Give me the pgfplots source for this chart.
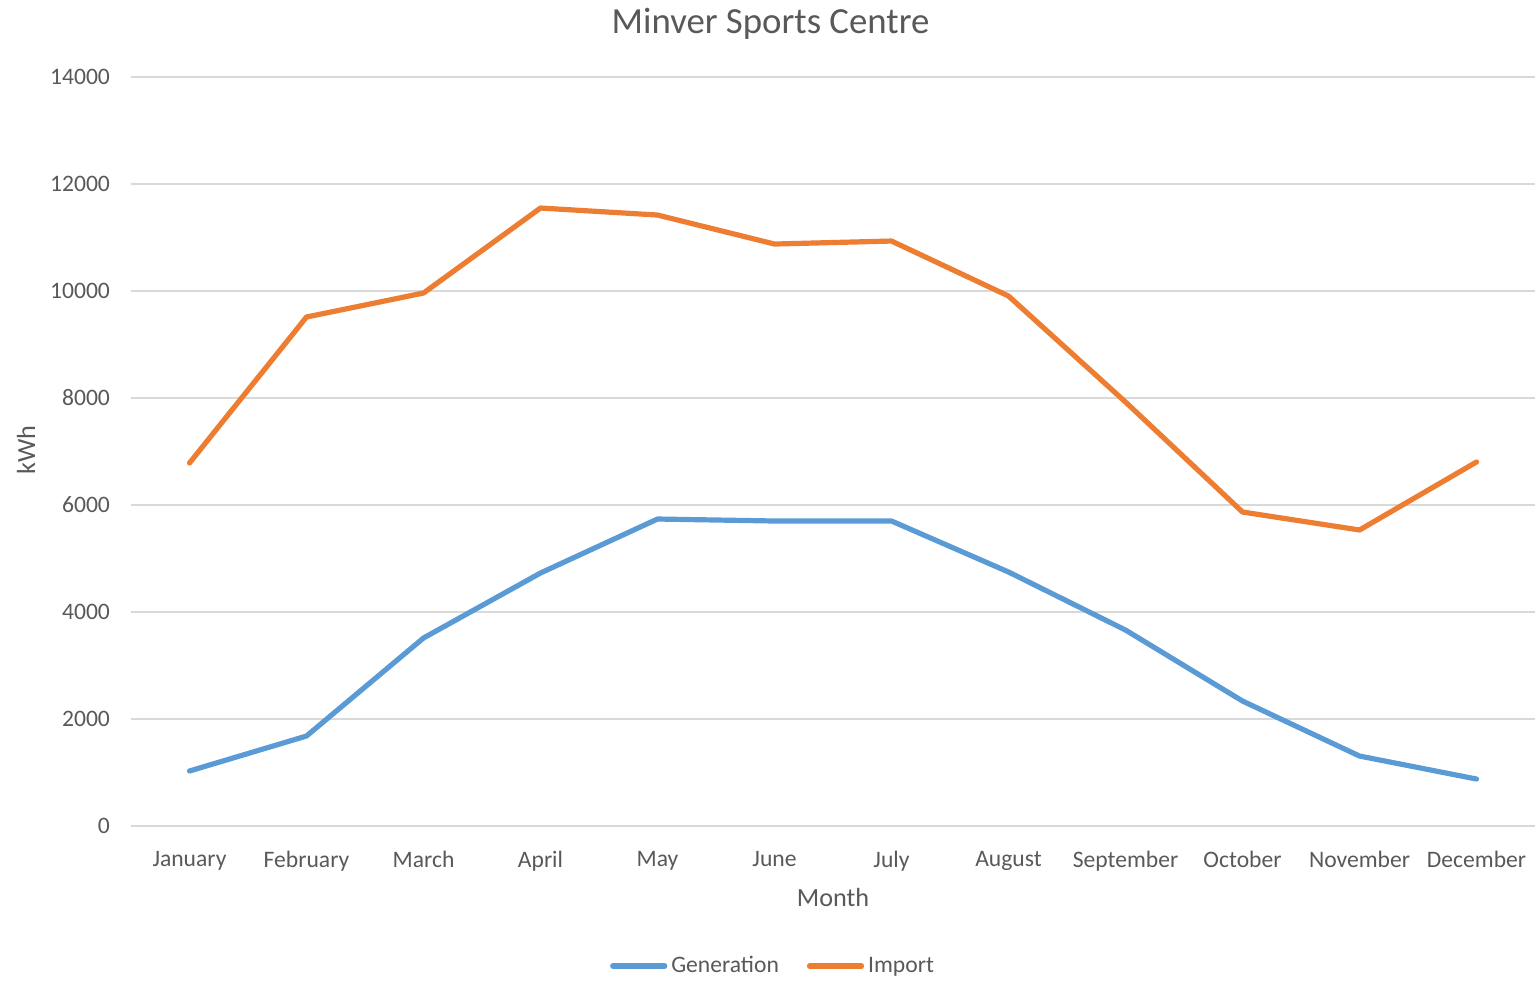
\documentclass[border=0pt]{standalone}
\usepackage{pgfplots}
\pgfplotsset{compat=1.18}
\usepackage{fontspec}
\setmainfont{Carlito}
\definecolor{genblue}{HTML}{5B9BD5}
\definecolor{imporange}{HTML}{ED7D31}
\definecolor{txtgray}{HTML}{595959}
\definecolor{gridgray}{HTML}{D9D9D9}
\begin{document}
\begin{tikzpicture}
\path[use as bounding box] (-65.5pt,-77.5pt) rectangle (704.5pt,413pt);
\begin{axis}[
  at={(0,0)}, anchor=south west,
  scale only axis,
  width=702pt, height=374.5pt,
  xmin=-0.5, xmax=11.5,
  ymin=0, ymax=14000,
  xtick={0,...,11},
  xticklabels={January,February,March,April,May,June,July,August,September,October,November,December},
  ytick={0,2000,...,14000},
  scaled y ticks=false,
  /pgf/number format/assume math mode=true,
  /pgf/number format/1000 sep={},
  ymajorgrids,
  grid style={gridgray, line width=0.6pt},
  axis x line*=bottom,
  axis y line*=left,
  x axis line style={gridgray, line width=0.8pt, -},
  y axis line style={draw=none},
  major tick length=0pt,
  tick label style={font=\fontsize{11.8}{14}\selectfont, text=txtgray},
  xticklabel style={yshift=-9pt},
  yticklabel style={xshift=-7pt},
  title={Minver Sports Centre},
  title style={at={(axis description cs:0.4555,1.0587)}, anchor=base, yshift=-6pt, font=\fontsize{18.4}{22}\selectfont, text=txtgray},
  xlabel={Month},
  ylabel={kWh},
  xlabel style={at={(axis description cs:0.5,-0.0948)}, anchor=center, font=\fontsize{13.1}{16}\selectfont, text=txtgray},
  ylabel style={at={(axis description cs:-0.0747,0.502)}, anchor=center, font=\fontsize{13.1}{16}\selectfont, text=txtgray},
  legend style={at={(axis description cs:0.458,-0.187)}, anchor=center, draw=none, fill=none,
    legend columns=2, font=\fontsize{11.8}{14}\selectfont, text=txtgray,
    /tikz/every even column/.append style={column sep=12pt}},
  legend image code/.code={\draw[#1, line cap=round] (0pt,0pt) -- (26pt,0pt);},
  line join=round,
]
\addplot[genblue, line width=2.6pt, line cap=round, mark=none] coordinates {
  (0,1028) (1,1682) (2,3514) (3,4729) (4,5738) (5,5701) (6,5701) (7,4748) (8,3663) (9,2336) (10,1308) (11,878)
};
\addlegendentry{Generation}
\addplot[imporange, line width=2.6pt, line cap=round, mark=none] coordinates {
  (0,6785) (1,9514) (2,9962) (3,11551) (4,11420) (5,10878) (6,10934) (7,9906) (8,7925) (9,5869) (10,5533) (11,6804)
};
\addlegendentry{Import}
\end{axis}
\end{tikzpicture}
\end{document}
